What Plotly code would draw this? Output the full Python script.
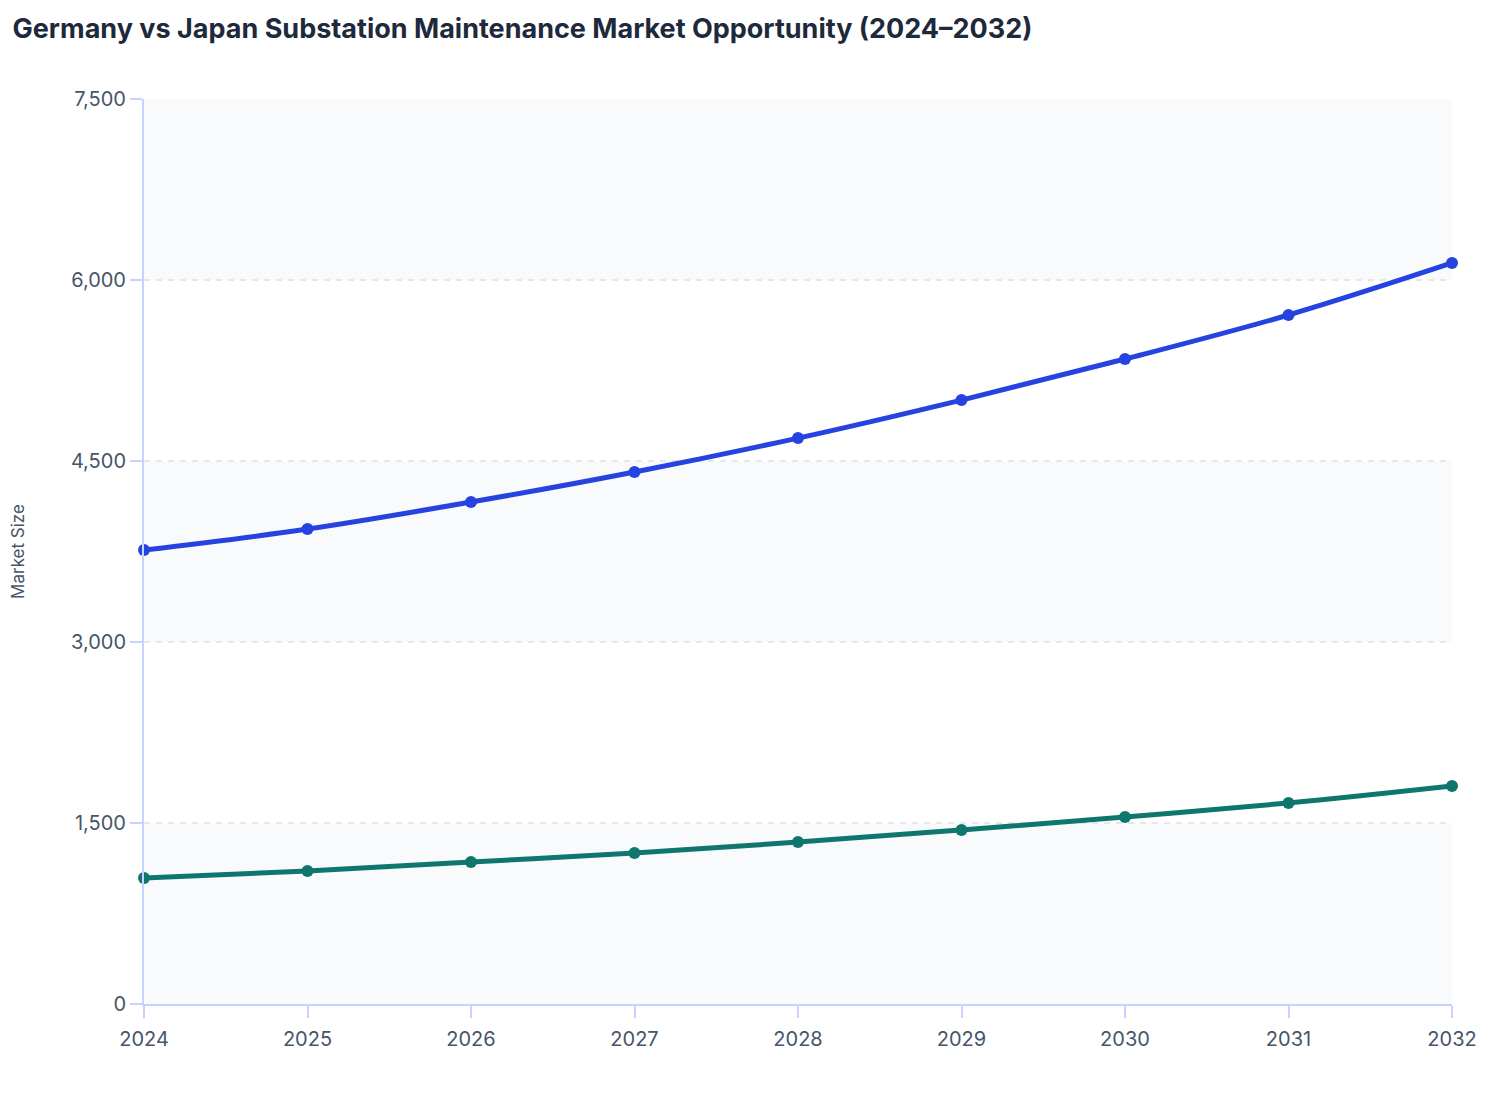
import plotly.graph_objects as go

years = [2024, 2025, 2026, 2027, 2028, 2029, 2030, 2031, 2032]
germany = [3762, 3936, 4160, 4409, 4690, 5005, 5345, 5710, 6141]
japan = [1044, 1102, 1177, 1251, 1342, 1442, 1550, 1666, 1807]
y_ticks = [0, 1500, 3000, 4500, 6000, 7500]

FONT = "Inter"
TICK_COLOR = "#475569"
AXIS_COLOR = "#c7d2fe"

fig = go.Figure()
fig.add_trace(go.Scatter(
    x=years, y=germany, name="Germany", mode="lines+markers",
    line=dict(color="#2643e0", width=5, shape="spline"),
    marker=dict(size=12, color="#2643e0"),
    cliponaxis=False,
))
fig.add_trace(go.Scatter(
    x=years, y=japan, name="Japan", mode="lines+markers",
    line=dict(color="#0f766e", width=5, shape="spline"),
    marker=dict(size=12, color="#0f766e"),
    cliponaxis=False,
))

# alternating background bands between y ticks
for i in range(0, len(y_ticks) - 1, 2):
    fig.add_shape(type="rect", xref="paper", yref="y",
                  x0=0, x1=1, y0=y_ticks[i], y1=y_ticks[i + 1],
                  fillcolor="#f8fafc", line_width=0, layer="below")

fig.update_layout(
    width=1508, height=1120,
    margin=dict(l=136, r=64, t=91, b=124),
    paper_bgcolor="white",
    plot_bgcolor="white",
    showlegend=False,
    font=dict(family=FONT, color=TICK_COLOR, size=20),
    title=dict(
        text="<b>Germany vs Japan Substation Maintenance Market Opportunity (2024\u20132032)</b>",
        xref="container", x=0.003, xanchor="left",
        yref="container", y=0.99, yanchor="top",
        pad=dict(t=0, l=0),
        font=dict(family=FONT, size=27, color="#1e293b"),
    ),
)
fig.update_xaxes(
    range=[2024, 2032], tickmode="array", tickvals=years,
    showgrid=False, zeroline=False,
    showline=True, linecolor=AXIS_COLOR, linewidth=2,
    ticks="outside", ticklen=12, tickcolor=AXIS_COLOR, tickwidth=2,
    tickfont=dict(size=20, color=TICK_COLOR), ticklabelstandoff=4,
    automargin=False,
)
fig.update_yaxes(
    range=[0, 7500], tickmode="array", tickvals=y_ticks, tickformat=",",
    showgrid=True, gridcolor="#e5e7eb", griddash="6px,6px", gridwidth=2,
    zeroline=False,
    showline=True, linecolor=AXIS_COLOR, linewidth=2,
    ticks="outside", ticklen=12, tickcolor=AXIS_COLOR, tickwidth=2,
    tickfont=dict(size=20, color=TICK_COLOR),
    title=dict(text="Market Size", font=dict(size=17, color=TICK_COLOR), standoff=46),
    automargin=False,
)

fig.write_html("out.html")
